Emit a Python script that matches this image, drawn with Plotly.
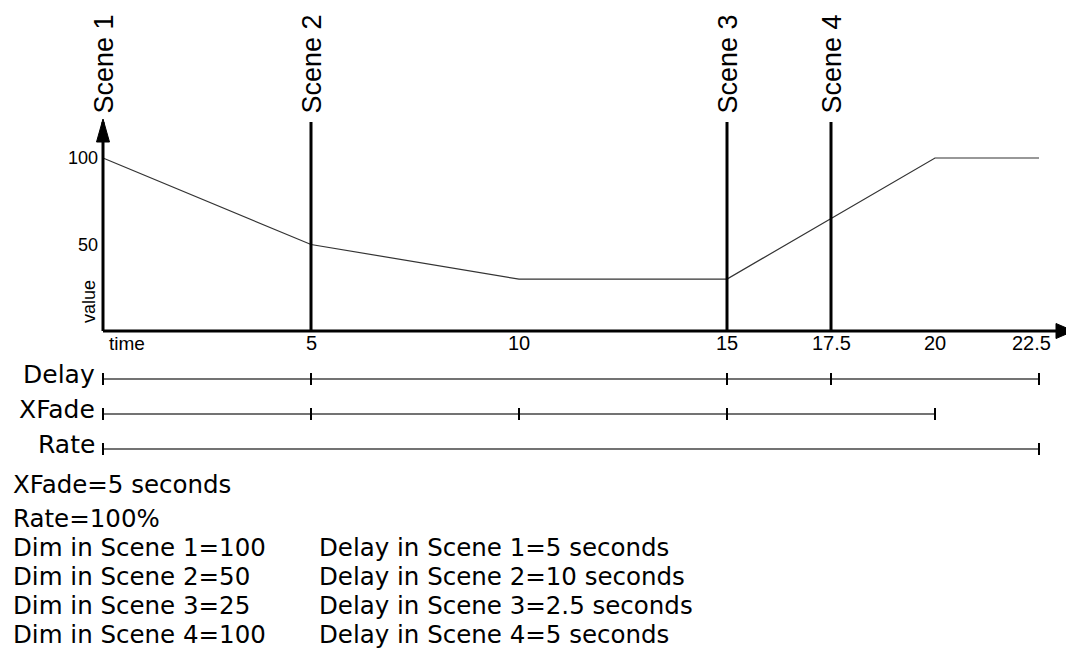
import plotly.graph_objects as go

# ---------------- data ----------------
scene_names = ["Scene 1", "Scene 2", "Scene 3", "Scene 4"]
scene_times = [0, 5, 15, 17.5]
curve_t = [0, 5, 10, 15, 20, 22.5]
curve_v = [100, 50, 30, 30, 100, 100]
time_ticks = [5, 10, 15, 17.5, 20, 22.5]
time_tick_text = ["5", "10", "15", "17.5", "20", "22.5"]
value_ticks = [100, 50]
value_tick_text = ["100", "50"]
row_names = ["Delay", "XFade", "Rate"]
delay_marks = [0, 5, 15, 17.5, 22.5]
xfade_marks = [0, 5, 10, 15, 20]
rate_marks = [0, 22.5]
notes_left = ["XFade=5 seconds", "Rate=100%", "Dim in Scene 1=100",
              "Dim in Scene 2=50", "Dim in Scene 3=25", "Dim in Scene 4=100"]
notes_right = ["Delay in Scene 1=5 seconds", "Delay in Scene 2=10 seconds",
               "Delay in Scene 3=2.5 seconds", "Delay in Scene 4=5 seconds"]

# ---------------- layout geometry (screen pixels) ----------------
SW, SH = 1074, 662           # browser window
OFF = 8                      # page body margin
W, H = SW - OFF, SH - OFF    # figure size
X0PX, XSC = 103.0, 41.6      # screen pixel of t=0, pixels per second
Y0PX, YSC = 331.0, 1.73      # screen pixel of value 0, pixels per value unit
FONT = "Liberation Sans, Arial, sans-serif"
FONT_WIDE = "DejaVu Sans, Liberation Sans, sans-serif"

def tx(px):  # screen pixel x -> data t
    return (px - X0PX) / XSC

def vy(py):  # screen pixel y -> data value
    return (Y0PX - py) / YSC

def paper_x(px):
    return (px - OFF) / W

def paper_y(py):
    return 1 - (py - OFF) / H

fig = go.Figure()

# value curve
fig.add_trace(go.Scatter(x=curve_t, y=curve_v, mode="lines",
                         line=dict(color="#333333", width=1.2), hoverinfo="skip"))

# scene lines (scene 1 is the value axis)
top_v = vy(122)
xs, ys = [], []
for t in scene_times:
    xs += [t, t, None]
    ys += [0, top_v, None]
fig.add_trace(go.Scatter(x=xs, y=ys, mode="lines",
                         line=dict(color="black", width=3), hoverinfo="skip"))

# time axis
x_tip = tx(1073.5)
fig.add_trace(go.Scatter(x=[0, tx(1060)], y=[0, 0], mode="lines",
                         line=dict(color="black", width=3), hoverinfo="skip"))
# arrowheads
fig.add_trace(go.Scatter(x=[x_tip, tx(1056), tx(1056), x_tip],
                         y=[0, vy(Y0PX - 7.5), vy(Y0PX + 7.5), 0],
                         mode="lines", fill="toself", fillcolor="black",
                         line=dict(color="black", width=1), hoverinfo="skip"))
fig.add_trace(go.Scatter(x=[0, tx(X0PX - 6.5), tx(X0PX + 6.5), 0],
                         y=[vy(119), vy(142), vy(142), vy(119)],
                         mode="lines", fill="toself", fillcolor="black",
                         line=dict(color="black", width=1), hoverinfo="skip"))

# timeline rows
row_py = [379, 414, 449]
row_marks = [delay_marks, xfade_marks, rate_marks]
for name, py, marks in zip(row_names, row_py, row_marks):
    v = vy(py)
    fig.add_trace(go.Scatter(x=[min(marks), max(marks)], y=[v, v], mode="lines",
                             line=dict(color="#444444", width=1.5), hoverinfo="skip"))
    mx, my = [], []
    for m in marks:
        mx += [m, m, None]
        my += [vy(py - 6), vy(py + 6), None]
    fig.add_trace(go.Scatter(x=mx, y=my, mode="lines",
                             line=dict(color="black", width=2), hoverinfo="skip"))
    fig.add_annotation(x=paper_x(97), y=paper_y(py - 5), xref="paper", yref="paper",
                       text=name, showarrow=False, xanchor="right", yanchor="middle",
                       font=dict(family=FONT_WIDE, size=25, color="black"))

# scene labels
for name, t in zip(scene_names, scene_times):
    fig.add_annotation(x=t, y=paper_y(116), xref="x", yref="paper", text=name,
                       showarrow=False, textangle=-90, xanchor="center",
                       yanchor="bottom", font=dict(family=FONT, size=27, color="black"))

# time tick labels
for i, (t, lab) in enumerate(zip(time_ticks, time_tick_text)):
    last = i == len(time_ticks) - 1
    fig.add_annotation(x=t, y=paper_y(343), xref="x", yref="paper", text=lab,
                       showarrow=False, xanchor="center", yanchor="middle",
                       xshift=-8 if last else 0,
                       font=dict(family=FONT, size=20, color="black"))
fig.add_annotation(x=0, y=paper_y(343), xref="x", yref="paper", text="time",
                   showarrow=False, xanchor="left", yanchor="middle", xshift=4,
                   font=dict(family=FONT, size=19, color="black"))

# value tick labels
for v, lab in zip(value_ticks, value_tick_text):
    fig.add_annotation(x=0, y=v, xref="x", yref="y", text=lab, showarrow=False,
                       xanchor="right", yanchor="middle", xshift=-3,
                       font=dict(family=FONT, size=18, color="black"))
fig.add_annotation(x=0, y=vy(302), xref="x", yref="y", text="value", showarrow=False,
                   textangle=-90, xanchor="right", yanchor="middle", xshift=-2,
                   font=dict(family=FONT, size=18, color="black"))

# notes
left_py = [484, 518, 547, 576, 605, 634]
for txt, py in zip(notes_left, left_py):
    fig.add_annotation(x=paper_x(11), y=paper_y(py), xref="paper", yref="paper", text=txt,
                       showarrow=False, xanchor="left", yanchor="middle",
                       font=dict(family=FONT_WIDE, size=24.5, color="black"))
right_py = [547, 576, 605, 634]
for txt, py in zip(notes_right, right_py):
    fig.add_annotation(x=paper_x(317), y=paper_y(py), xref="paper", yref="paper", text=txt,
                       showarrow=False, xanchor="left", yanchor="middle",
                       font=dict(family=FONT_WIDE, size=24.5, color="black"))

fig.update_layout(
    width=W, height=H, margin=dict(l=0, r=0, t=0, b=0),
    paper_bgcolor="white", plot_bgcolor="white", showlegend=False,
    xaxis=dict(range=[tx(OFF), tx(SW)], visible=False, fixedrange=True),
    yaxis=dict(range=[vy(SH), vy(OFF)], visible=False, fixedrange=True),
)
fig.write_html("out.html")
